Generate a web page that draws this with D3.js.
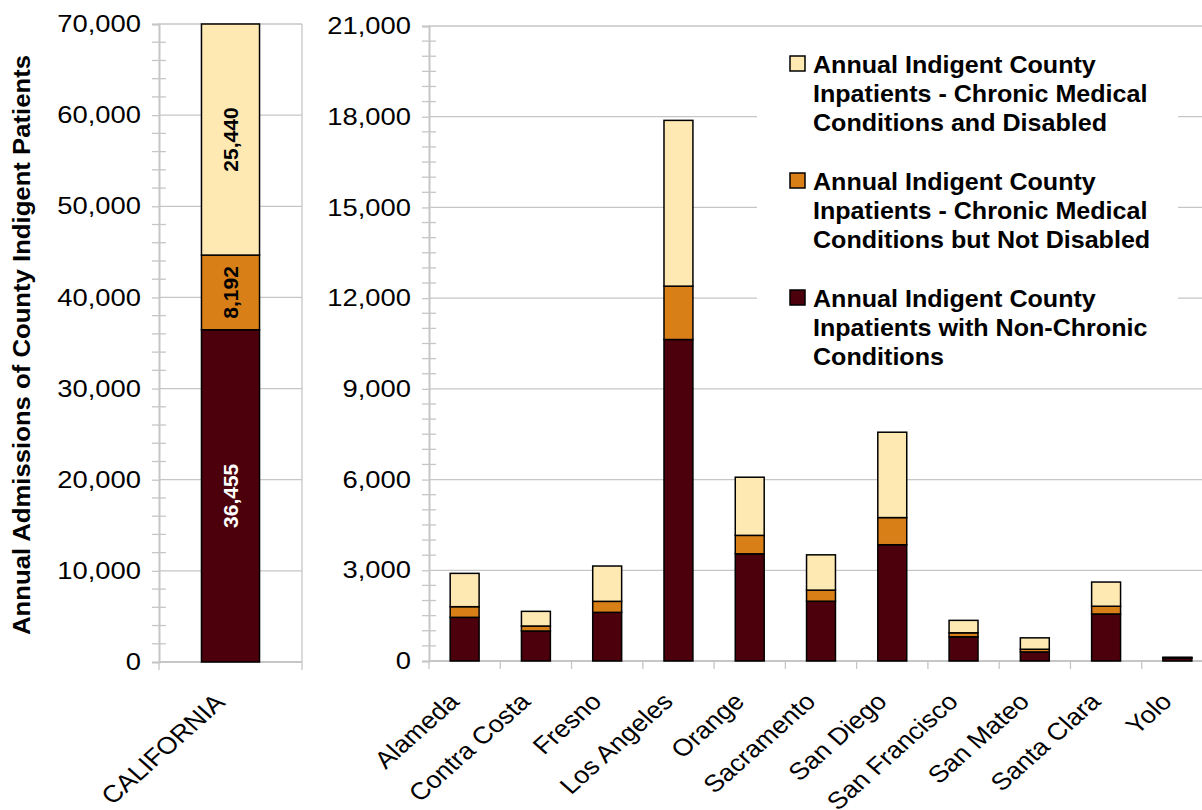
<!DOCTYPE html>
<html>
<head>
<meta charset="utf-8">
<script src="https://cdn.jsdelivr.net/npm/d3@7"></script>
<style>
  html, body { margin: 0; padding: 0; background: #ffffff; }
  svg { display: block; }
  text { font-family: "Liberation Sans", Arial, sans-serif; fill: #000; }
</style>
</head>
<body>
<svg id="chart" width="1202" height="810"></svg>
<script>
// ---- data ----
const seriesKeys = ["nonChronic", "chronicNotDisabled", "chronicDisabled"];
const seriesNames = [
  ["Annual Indigent County", "Inpatients with Non-Chronic", "Conditions"],
  ["Annual Indigent County", "Inpatients - Chronic Medical", "Conditions but Not Disabled"],
  ["Annual Indigent County", "Inpatients - Chronic Medical", "Conditions and Disabled"]
];
const seriesColors = ["#4c000b", "#d97f18", "#ffe9b3"];

const stateName = ["CALIFORNIA"];
const stateNonChronic = [36455];
const stateChronicNotDisabled = [8192];
const stateChronicDisabled = [25440];

const counties = ["Alameda", "Contra Costa", "Fresno", "Los Angeles", "Orange", "Sacramento",
                  "San Diego", "San Francisco", "San Mateo", "Santa Clara", "Yolo"];
const countyNonChronic =        [1444,  992, 1609, 10632, 3545, 1978, 3845, 800, 300, 1555, 90];
const countyChronicNotDisabled = [352,  165,  364,  1765,  610,  366,  898, 133,  89,  256, 15];
const countyChronicDisabled =   [1102,  485, 1168,  5482, 1923, 1167, 2823, 411, 377,  800, 20];

const stateTicks = [0, 10000, 20000, 30000, 40000, 50000, 60000, 70000];
const countyTicks = [0, 3000, 6000, 9000, 12000, 15000, 18000, 21000];

const yTitle = "Annual Admissions of County Indigent Patients";

// ---- helpers ----
const svg = d3.select("#chart");
const fmt = d3.format(",");
const gridColor = "#c6c6c6";

// widen a text element horizontally by a factor, keeping its anchor
function widen(sel, factor) {
  sel.each(function () {
    const w = this.getComputedTextLength();
    d3.select(this).attr("textLength", w * factor).attr("lengthAdjust", "spacingAndGlyphs");
  });
}

function rows(names, a, b, c) {
  return names.map((n, i) => ({ name: n, nonChronic: a[i], chronicNotDisabled: b[i], chronicDisabled: c[i] }));
}

function drawPanel(opts) {
  const { data, ticks, minorStep, left, right, top, bottom, labelBars } = opts;
  const g = svg.append("g");

  const x = d3.scaleBand().domain(data.map(d => d.name))
    .range([left, right]).paddingInner(0.594).paddingOuter(0.297);
  const y = d3.scaleLinear().domain([0, ticks[ticks.length - 1]])
    .range([bottom, top]).clamp(true);

  // horizontal gridlines
  g.append("g").selectAll("line").data(ticks).join("line")
    .attr("x1", left).attr("x2", right)
    .attr("y1", d => y(d)).attr("y2", d => y(d))
    .attr("stroke", gridColor).attr("stroke-width", 1.3);

  if (opts.frameRight) {
    g.append("line").attr("x1", right).attr("x2", right)
      .attr("y1", top).attr("y2", bottom)
      .attr("stroke", gridColor).attr("stroke-width", 1.3);
  }

  // minor ticks crossing the value axis
  const minor = d3.range(0, ticks[ticks.length - 1] + 1, minorStep).filter(v => !ticks.includes(v));
  g.append("g").selectAll("line").data(minor).join("line")
    .attr("x1", left - 7).attr("x2", left + 7)
    .attr("y1", d => y(d)).attr("y2", d => y(d))
    .attr("stroke", gridColor).attr("stroke-width", 1.3);

  // value axis
  const yAxis = d3.axisLeft(y).tickValues(ticks).tickFormat(fmt).tickSize(7).tickPadding(11);
  const ya = g.append("g").attr("transform", `translate(${left},0)`).call(yAxis);
  ya.select(".domain").attr("stroke", gridColor).attr("stroke-width", 2);
  ya.selectAll(".tick line").attr("stroke", gridColor).attr("stroke-width", 1.3);
  ya.selectAll(".tick text").attr("font-size", 24).attr("fill", "#000")
    .attr("font-family", "Liberation Sans, Arial, sans-serif");
  widen(ya.selectAll(".tick text"), 1.14);

  // category axis: baseline and boundary ticks
  g.append("line").attr("x1", left).attr("x2", right)
    .attr("y1", bottom).attr("y2", bottom)
    .attr("stroke", gridColor).attr("stroke-width", 2);
  const step = x.step();
  const bounds = d3.range(data.length + 1).map(i => left + i * step);
  g.append("g").selectAll("line").data(bounds).join("line")
    .attr("x1", d => d).attr("x2", d => d)
    .attr("y1", bottom).attr("y2", bottom + 8)
    .attr("stroke", gridColor).attr("stroke-width", 1.3);

  // stacked bars
  const stack = d3.stack().keys(seriesKeys)(data);
  g.append("g").selectAll("g").data(stack).join("g")
    .attr("fill", (d, i) => seriesColors[i])
    .selectAll("rect").data(d => d).join("rect")
    .attr("x", d => x(d.data.name))
    .attr("width", x.bandwidth())
    .attr("y", d => y(d[1]))
    .attr("height", d => y(d[0]) - y(d[1]))
    .attr("stroke", "#000").attr("stroke-width", 1.5);

  if (labelBars) {
    stack.forEach((layer, i) => {
      layer.forEach(d => {
        const cx = x(d.data.name) + x.bandwidth() / 2;
        const cy = (y(d[0]) + y(d[1])) / 2;
        g.append("text")
          .attr("transform", `translate(${cx},${cy}) rotate(-90)`)
          .attr("text-anchor", "middle").attr("dy", "0.36em")
          .attr("font-size", 21).attr("font-weight", "bold")
          .style("fill", i === 0 ? "#ffffff" : "#000000")
          .text(fmt(d.data[seriesKeys[i]]));
      });
    });
  }

  // rotated category labels
  g.append("g").selectAll("text").data(data).join("text")
    .attr("transform", d => `translate(${x(d.name) + x.bandwidth() / 2 - 4},${bottom + 42}) scale(1.12,1) rotate(-45)`)
    .attr("text-anchor", "end")
    .attr("font-size", 24)
    .text(d => d.name);

  return { x, y, g };
}

// state panel
drawPanel({
  data: rows(stateName, stateNonChronic, stateChronicNotDisabled, stateChronicDisabled),
  ticks: stateTicks, minorStep: 2000,
  left: 159, right: 302, top: 24, bottom: 662,
  labelBars: true, frameRight: true
});

// county panel
drawPanel({
  data: rows(counties, countyNonChronic, countyChronicNotDisabled, countyChronicDisabled),
  ticks: countyTicks, minorStep: 500,
  left: 429, right: 1213, top: 26, bottom: 661,
  labelBars: false, frameRight: false
});

// legend (white box over the gridlines)
const legend = svg.append("g");
legend.append("rect").attr("x", 757).attr("y", 36).attr("width", 421).attr("height", 344)
  .attr("fill", "#ffffff");
const order = [2, 1, 0];
order.forEach((si, k) => {
  const top = 55 + k * 117;
  legend.append("rect").attr("x", 790).attr("y", top + 1).attr("width", 15).attr("height", 15)
    .attr("fill", seriesColors[si]).attr("stroke", "#000").attr("stroke-width", 1.5);
  seriesNames[si].forEach((line, j) => {
    const t = legend.append("text").attr("x", 813).attr("y", top + 17.5 + j * 29)
      .attr("font-size", 24).attr("font-weight", "bold").text(line);
    widen(t, 1.045);
  });
});

// value-axis title
const title = svg.append("text")
  .attr("transform", "translate(30,345) rotate(-90)")
  .attr("text-anchor", "middle")
  .attr("font-size", 24).attr("font-weight", "bold")
  .text(yTitle);
title.attr("textLength", 580).attr("lengthAdjust", "spacingAndGlyphs");
</script>
</body>
</html>
